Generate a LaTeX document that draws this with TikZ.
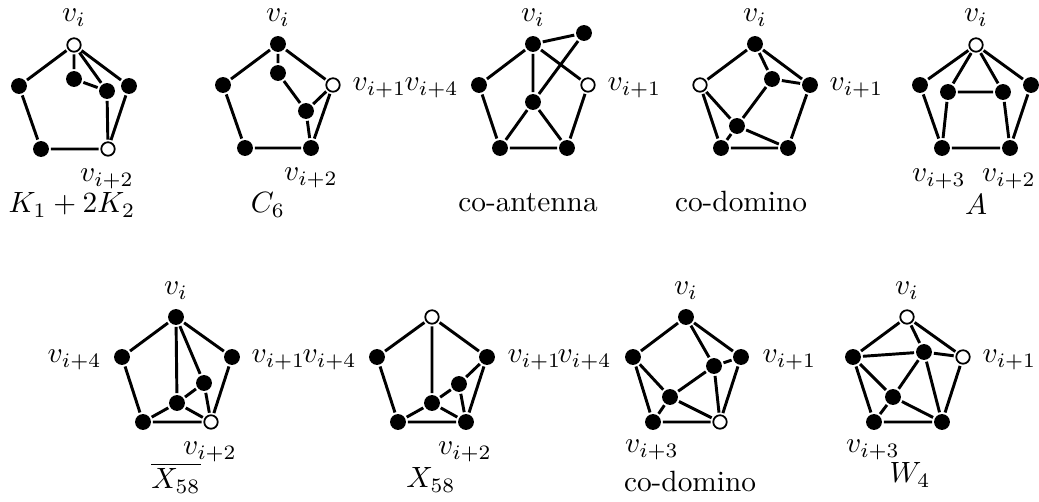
\documentclass[tikz,border=0pt]{standalone}
\begin{document}
\begin{tikzpicture}[x=0.341pt,y=-0.341pt,
  bv/.style={circle,fill=black,inner sep=0pt,minimum size=5.4pt,outer sep=0.7pt},
  wv/.style={circle,fill=white,draw=black,line width=0.6pt,inner sep=0pt,minimum size=4.6pt,outer sep=0.9pt},
  ed/.style={line width=1pt},
  lab/.style={inner sep=0pt}]
\useasboundingbox (0,0) rectangle (1039,502);

% ---------- Graph 1: K1 + 2K2
\node[wv] (at) at (74,45) {};
\node[bv] (al) at (19,86) {};
\node[bv] (ar) at (129,86) {};
\node[bv] (abl) at (41,149) {};
\node[wv] (abr) at (108,149) {};
\node[bv] (aa) at (74,79) {};
\node[bv] (ab) at (107,91) {};
\draw[ed] (at)--(al) (at)--(ar) (at)--(aa) (at)--(ab) (aa)--(ab) (ab)--(abr)
  (ar)--(abr) (al)--(abl) (abl)--(abr);
\node[lab,anchor=base] (atl) at (74,22) {$v_i$};
\node[lab,anchor=base] (abrl) at (107,182) {$v_{i+2}$};
\node[lab,anchor=base] (acap) at (72,213) {$K_1+2K_2$};

% ---------- Graph 2: C6
\node[bv] (bt) at (278,44) {};
\node[bv] (bl) at (223,85) {};
\node[wv] (br) at (333,85) {};
\node[bv] (bbl) at (245,148) {};
\node[bv] (bbr) at (311,148) {};
\node[bv] (ba) at (278,73) {};
\node[bv] (bb) at (306,111) {};
\draw[ed] (bt)--(bl) (bt)--(br) (bt)--(ba) (ba)--(bb) (bb)--(br) (bb)--(bbr)
  (br)--(bbr) (bl)--(bbl) (bbl)--(bbr);
\node[lab,anchor=base] (btl) at (278,22) {$v_i$};
\node[lab,anchor=base west] (brl) at (352,91) {$v_{i+1}$};
\node[lab,anchor=base] (bbrl) at (311,181) {$v_{i+2}$};
\node[lab,anchor=base] (bcap) at (268,213) {$C_6$};

% ---------- Graph 3: co-antenna
\node[bv] (ct) at (533,44) {};
\node[bv] (cl) at (479,85) {};
\node[wv] (cr) at (588,85) {};
\node[bv] (cbl) at (500,148) {};
\node[bv] (cbr) at (567,148) {};
\node[bv] (cx) at (584,33) {};
\node[bv] (cc) at (533,102) {};
\draw[ed] (ct)--(cl) (ct)--(cr) (ct)--(cx) (ct)--(cc) (cx)--(cc) (cc)--(cbl)
  (cc)--(cbr) (cl)--(cbl) (cr)--(cbr) (cbl)--(cbr);
\node[lab,anchor=base] (ctl) at (533,22) {$v_i$};
\node[lab,anchor=base east] (cll) at (459,91) {$v_{i+4}$};
\node[lab,anchor=base west] (crl) at (607,91) {$v_{i+1}$};
\node[lab,anchor=base] (ccap) at (528,212) {co-antenna};

% ---------- Graph 4: co-domino
\node[bv] (dt) at (755,44) {};
\node[wv] (dl) at (700,85) {};
\node[bv] (dr) at (810,85) {};
\node[bv] (dbl) at (721,148) {};
\node[bv] (dbr) at (788,148) {};
\node[bv] (da) at (772,79) {};
\node[bv] (db) at (737,126) {};
\draw[ed] (dt)--(dl) (dt)--(dr) (dt)--(da) (da)--(dr) (da)--(db) (dl)--(db)
  (dl)--(dbl) (db)--(dbl) (db)--(dbr) (dbl)--(dbr) (dr)--(dbr);
\node[lab,anchor=base] (dtl) at (755,22) {$v_i$};
\node[lab,anchor=base west] (drl) at (829,91) {$v_{i+1}$};
\node[lab,anchor=base] (dcap) at (741,212) {co-domino};

% ---------- Graph 5: A
\node[wv] (et) at (976,45) {};
\node[bv] (el) at (920,85) {};
\node[bv] (er) at (1031,85) {};
\node[bv] (ebl) at (942,148) {};
\node[bv] (ebr) at (1010,148) {};
\node[bv] (ea) at (948,92) {};
\node[bv] (eb) at (1003,92) {};
\draw[ed] (et)--(el) (et)--(er) (et)--(ea) (et)--(eb) (ea)--(eb) (ea)--(ebl)
  (eb)--(ebr) (el)--(ebl) (er)--(ebr) (ebl)--(ebr);
\node[lab,anchor=base] (etl) at (976,22) {$v_i$};
\node[lab,anchor=base] (ebll) at (939,182) {$v_{i+3}$};
\node[lab,anchor=base] (ebrl) at (1009,182) {$v_{i+2}$};
\node[lab,anchor=base] (ecap) at (976,215) {$A$};

% ---------- Graph 6: X58 bar
\node[bv] (ft) at (176,317) {};
\node[bv] (fl) at (122,357) {};
\node[bv] (fr) at (232,357) {};
\node[bv] (fbl) at (143,422) {};
\node[wv] (fbr) at (211,422) {};
\node[bv] (fa) at (204,383) {};
\node[bv] (fb) at (177,403) {};
\draw[ed] (ft)--(fl) (ft)--(fr) (ft)--(fb) (ft)--(fa) (fa)--(fb) (fa)--(fbr)
  (fb)--(fbl) (fb)--(fbr) (fl)--(fbl) (fr)--(fbr) (fbl)--(fbr);
\node[lab,anchor=base] (ftl) at (176,295) {$v_i$};
\node[lab,anchor=base east] (fll) at (102,363) {$v_{i+4}$};
\node[lab,anchor=base west] (frl) at (251,363) {$v_{i+1}$};
\node[lab,anchor=base] (fbrl) at (210,455) {$v_{i+2}$};
\node[lab,anchor=base] (fcap) at (176,489) {$\overline{X_{58}}$};

% ---------- Graph 7: X58
\node[wv] (gt) at (432,317) {};
\node[bv] (gl) at (377,357) {};
\node[bv] (gr) at (487,357) {};
\node[bv] (gbl) at (398,422) {};
\node[bv] (gbr) at (466,422) {};
\node[bv] (ga) at (459,384) {};
\node[bv] (gb) at (432,403) {};
\draw[ed] (gt)--(gl) (gt)--(gr) (gt)--(gb) (ga)--(gr) (ga)--(gb) (ga)--(gbr)
  (gb)--(gbl) (gb)--(gbr) (gr)--(gbr) (gl)--(gbl) (gbl)--(gbr);
\node[lab,anchor=base east] (gll) at (357,363) {$v_{i+4}$};
\node[lab,anchor=base west] (grl) at (507,363) {$v_{i+1}$};
\node[lab,anchor=base] (gbrl) at (465,455) {$v_{i+2}$};
\node[lab,anchor=base] (gcap) at (431,488) {$X_{58}$};

% ---------- Graph 8: co-domino
\node[bv] (ht) at (686,317) {};
\node[bv] (hl) at (633,357) {};
\node[bv] (hr) at (741,357) {};
\node[bv] (hbl) at (653,422) {};
\node[wv] (hbr) at (720,422) {};
\node[bv] (ha) at (714,366) {};
\node[bv] (hb) at (670,397) {};
\draw[ed] (ht)--(hl) (ht)--(hr) (ht)--(ha) (ha)--(hr) (ha)--(hb) (ha)--(hbr)
  (hl)--(hb) (hl)--(hbl) (hb)--(hbl) (hb)--(hbr) (hr)--(hbr) (hbl)--(hbr);
\node[lab,anchor=base] (htl) at (686,295) {$v_i$};
\node[lab,anchor=base east] (hll) at (612,363) {$v_{i+4}$};
\node[lab,anchor=base west] (hrl) at (762,363) {$v_{i+1}$};
\node[lab,anchor=base] (hbll) at (652,453) {$v_{i+3}$};
\node[lab,anchor=base] (hcap) at (690,492) {co-domino};

% ---------- Graph 9: W4
\node[wv] (it) at (907,317) {};
\node[bv] (il) at (853,357) {};
\node[wv] (ir) at (963,357) {};
\node[bv] (ibl) at (874,422) {};
\node[bv] (ibr) at (942,422) {};
\node[bv] (ia) at (924,352) {};
\node[bv] (ib) at (893,397) {};
\draw[ed] (it)--(il) (it)--(ir) (it)--(ia) (ia)--(ir) (il)--(ia) (ia)--(ib) (ia)--(ibr)
  (il)--(ib) (il)--(ibl) (ib)--(ibl) (ib)--(ibr) (ir)--(ibr) (ibl)--(ibr);
\node[lab,anchor=base] (itl) at (907,295) {$v_i$};
\node[lab,anchor=base west] (irl) at (982,363) {$v_{i+1}$};
\node[lab,anchor=base] (ibll) at (873,453) {$v_{i+3}$};
\node[lab,anchor=base] (icap) at (910,483) {$W_4$};
\end{tikzpicture}
\end{document}
